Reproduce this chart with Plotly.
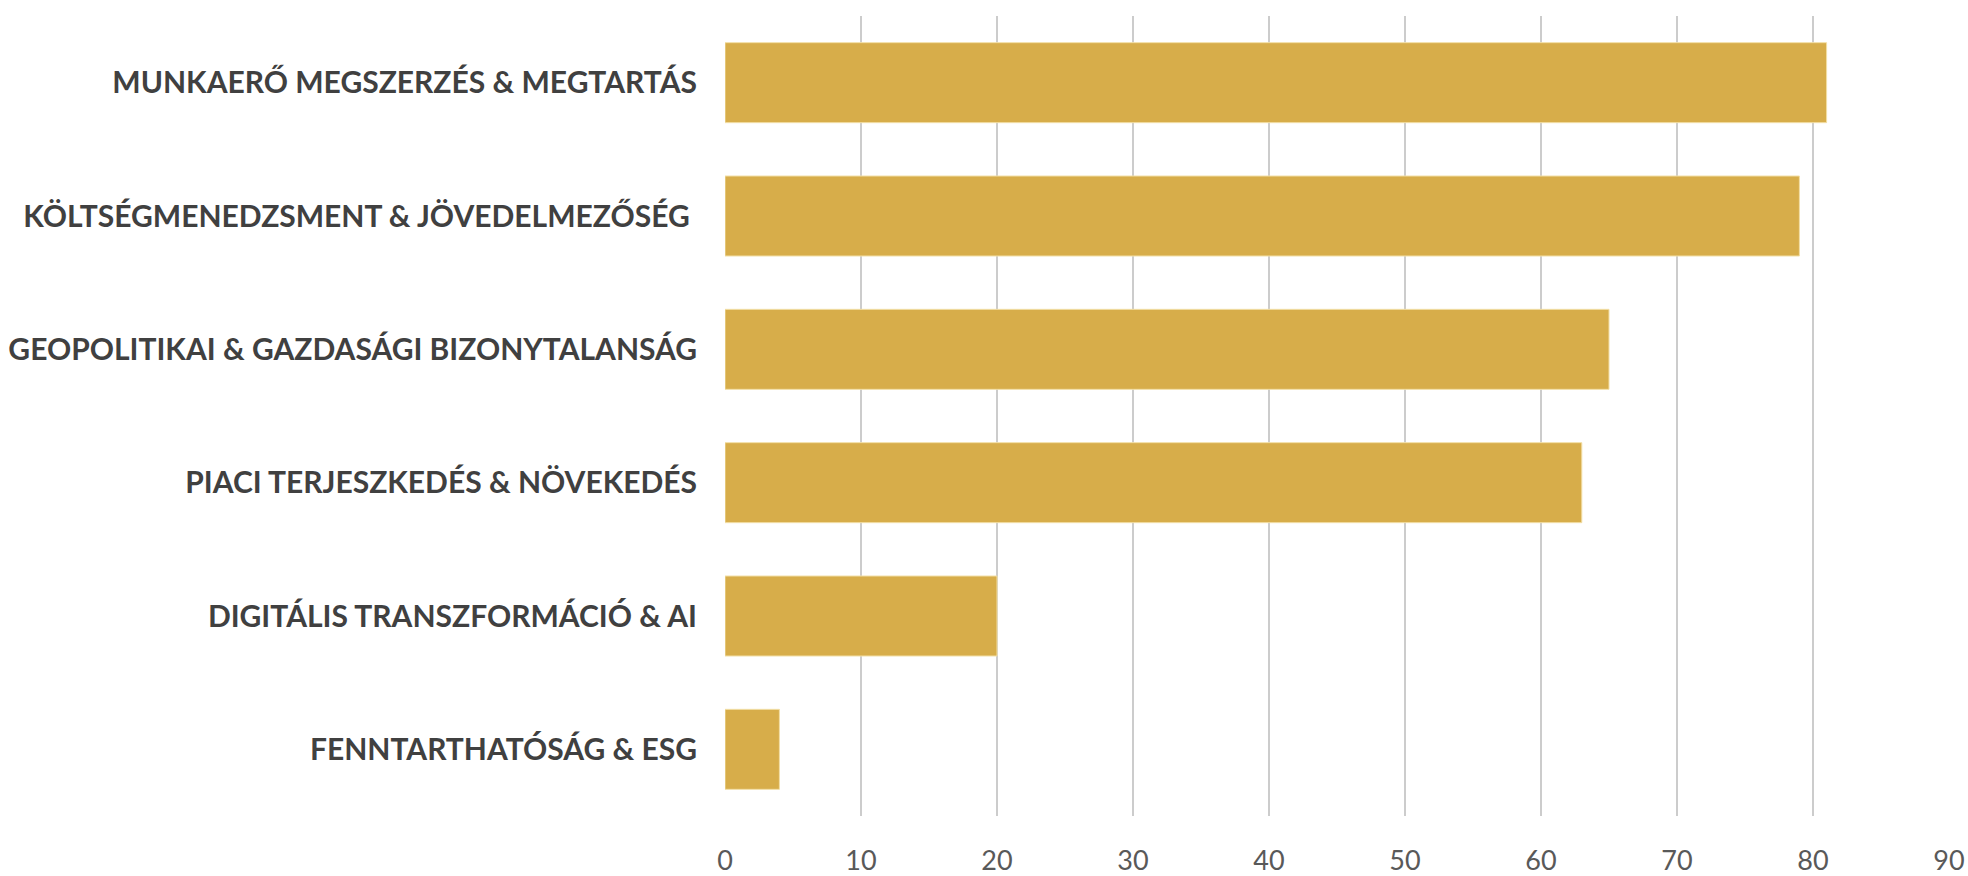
import plotly.graph_objects as go

categories = [
    "MUNKAERŐ MEGSZERZÉS & MEGTARTÁS",
    "KÖLTSÉGMENEDZSMENT & JÖVEDELMEZŐSÉG\u00a0",
    "GEOPOLITIKAI & GAZDASÁGI BIZONYTALANSÁG",
    "PIACI TERJESZKEDÉS & NÖVEKEDÉS",
    "DIGITÁLIS TRANSZFORMÁCIÓ & AI",
    "FENNTARTHATÓSÁG & ESG",
]
values = [81, 79, 65, 63, 20, 4]
x_ticks = [0, 10, 20, 30, 40, 50, 60, 70, 80, 90]

fig = go.Figure(
    go.Bar(
        x=values,
        y=categories,
        orientation="h",
        marker=dict(color="#D7AD4A", line=dict(color="#F2DFA6", width=1)),
    )
)

fig.update_layout(
    width=1968,
    height=876,
    margin=dict(l=725, r=19, t=16, b=60),
    paper_bgcolor="white",
    plot_bgcolor="white",
    bargap=0.4,
    showlegend=False,
    font=dict(family="Lato, Carlito, sans-serif"),
)

fig.update_xaxes(
    range=[0, 90],
    automargin=False,
    tickvals=x_ticks,
    ticktext=[str(v) for v in x_ticks],
    showgrid=True,
    gridcolor="#CCCCCC",
    gridwidth=1.5,
    zeroline=True,
    zerolinecolor="rgba(0,0,0,0)",
    showline=False,
    ticks="outside",
    ticklen=21,
    tickcolor="rgba(0,0,0,0)",
    tickfont=dict(size=27, color="#595959", family="Lato, sans-serif"),
)

fig.update_yaxes(
    autorange="reversed",
    automargin=False,
    showgrid=False,
    showline=False,
    ticks="",
    ticklabelstandoff=27,
    tickfont=dict(size=30, color="#404040", family="Lato, sans-serif", weight="bold"),
)

fig.write_html(
    "out.html",
    config={"displayModeBar": False},
    post_script="document.body.style.margin='0';document.body.style.overflow='hidden';",
)
